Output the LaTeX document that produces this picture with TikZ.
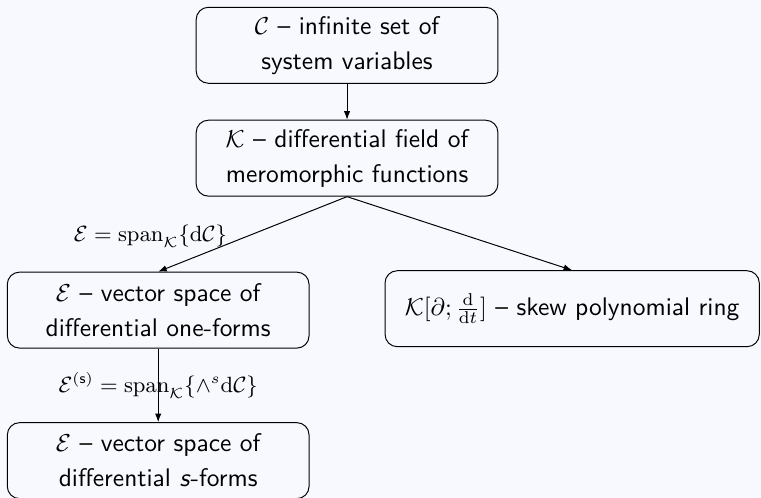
\documentclass[tikz,border=0pt]{standalone}
\usepackage{amsmath,amssymb}
\usepackage{xcolor}
\usetikzlibrary{arrows.meta,positioning}

\definecolor{pagebg}{RGB}{247,249,254}

\begin{document}
\begin{tikzpicture}[
  >={Latex[length=3.5pt,width=2.6pt]},
  font=\fontsize{10.4}{14.3}\selectfont\sffamily,
  box/.style={draw, rounded corners=5pt, align=center, minimum width=4.33cm, minimum height=1.09cm, inner sep=2pt},
  widebox/.style={box, minimum width=5.37cm},
  lbl/.style={font=\fontsize{8.7}{10}\selectfont\rmfamily},
  arrow/.style={->}
]
\fill[pagebg] (0,0) rectangle (10.92,-7.14);
\useasboundingbox (0,0) rectangle (10.92,-7.14);

\node[box] (vars) at (4.98,-0.65) {$\mathcal{C}$ -- infinite set of\\system variables};
\node[box] (field) at (4.98,-2.27) {$\mathcal{K}$ -- differential field of\\meromorphic functions};
\node[box] (oneforms) at (2.27,-4.45) {$\mathcal{E}$ -- vector space of\\differential one-forms};
\node[widebox] (ring) at (8.21,-4.43) {$\mathcal{K}[\partial;\frac{\mathrm{d}}{\mathrm{d}t}]$ -- skew polynomial ring};
\node[box] (sforms) at (2.27,-6.61) {$\mathcal{E}$ -- vector space of\\differential \textit{s}-forms};

\draw[arrow] (vars) -- (field);
\draw[arrow] (field.south) -- node[pos=0.59, left, yshift=2pt, lbl] {$\mathcal{E}=\mathrm{span}_{\mathcal{K}}\{\mathrm{d}\mathcal{C}\}$} (oneforms.north);
\draw[arrow] (field.south) -- (ring.north);
\draw[arrow] (oneforms) -- node[lbl] {$\mathcal{E}^{(\mathsf{s})}=\mathrm{span}_{\mathcal{K}}\{\wedge^s\mathrm{d}\mathcal{C}\}$} (sforms);
\end{tikzpicture}
\end{document}
